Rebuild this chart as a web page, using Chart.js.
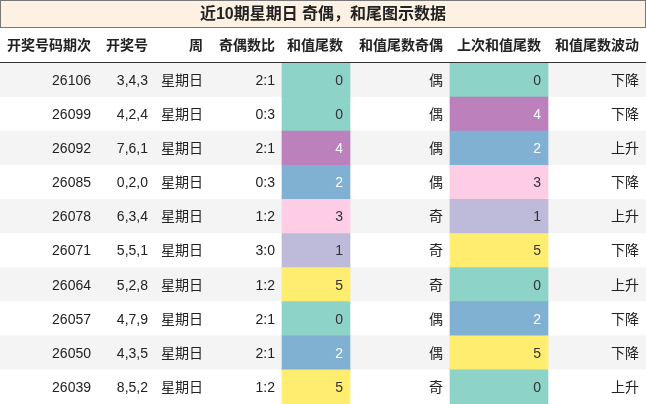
<!DOCTYPE html>
<html><head><meta charset="utf-8">
<script src="https://cdn.jsdelivr.net/npm/chart.js@4"></script>
<style>html,body{margin:0;padding:0;background:#fff}#w{width:646px;height:404px}</style>
</head><body><div id="w"><canvas id="c"></canvas></div>
<script>
const title = "近10期星期日 奇偶，和尾图示数据";
const headers = ["开奖号码期次","开奖号","周","奇偶数比","和值尾数","和值尾数奇偶","上次和值尾数","和值尾数波动"];
const issues = ["26106","26099","26092","26085","26078","26071","26064","26057","26050","26039"];
const numbers = ["3,4,3","4,2,4","7,6,1","0,2,0","6,3,4","5,5,1","5,2,8","4,7,9","4,3,5","8,5,2"];
const weekdays = ["星期日","星期日","星期日","星期日","星期日","星期日","星期日","星期日","星期日","星期日"];
const oddEven = ["2:1","0:3","2:1","0:3","1:2","3:0","1:2","2:1","2:1","1:2"];
const sumTail = [0,0,4,2,3,1,5,0,2,5];
const tailParity = ["偶","偶","偶","偶","奇","奇","奇","偶","偶","奇"];
const prevTail = [0,4,2,3,1,5,0,2,5,0];
const trend = ["下降","下降","上升","下降","上升","下降","上升","下降","下降","上升"];

const colEdges = [0,98,155,210,282,350,450,548,646];
const tailColors = {0:"#8dd3c7",1:"#bebada",2:"#80b1d3",3:"#fccde5",4:"#bc80bd",5:"#ffed6f"};
const tailText = {0:"#333",1:"#333",2:"#fff",3:"#333",4:"#fff",5:"#333"};
const rows = issues.map((_, i) => i);
const FONT = "'Liberation Sans','Noto Sans CJK SC',sans-serif";

const tablePlugin = {
  id: 'table',
  afterDatasetsDraw(chart) {
    const {ctx} = chart, x = chart.scales.x, y = chart.scales.y;
    ctx.save();
    // title
    ctx.fillStyle = "#fdf1e3"; ctx.fillRect(0,0,646,28);
    ctx.strokeStyle = "#777"; ctx.lineWidth = 1; ctx.strokeRect(0.5,0.5,645,27);
    ctx.fillStyle = "#222"; ctx.font = "bold 16px " + FONT; ctx.textAlign = "center"; ctx.textBaseline = "middle";
    ctx.fillText(title, 323, 15);
    // header
    const hy = 46;
    ctx.font = "bold 14px " + FONT; ctx.textAlign = "right";
    headers.forEach((h, j) => ctx.fillText(h, x.getPixelForValue(colEdges[j+1]) - 7, hy));
    ctx.strokeStyle = "#333"; ctx.beginPath(); ctx.moveTo(0, 62.5); ctx.lineTo(646, 62.5); ctx.stroke();
    // cells
    ctx.font = "14px " + FONT;
    rows.forEach(i => {
      const py = y.getPixelForValue(i);
      const vals = [issues[i], numbers[i], weekdays[i], oddEven[i], String(sumTail[i]), tailParity[i], String(prevTail[i]), trend[i]];
      vals.forEach((v, j) => {
        ctx.fillStyle = j === 4 ? tailText[sumTail[i]] : j === 6 ? tailText[prevTail[i]] : "#222";
        ctx.fillText(v, x.getPixelForValue(colEdges[j+1]) - 7, py + 1);
      });
    });
    ctx.restore();
  }
};

new Chart(document.getElementById('c'), {
  type: 'bar',
  data: {
    labels: rows,
    datasets: [
      {data: rows.map(() => [colEdges[4], colEdges[5]]), backgroundColor: sumTail.map(v => tailColors[v]), order: 1},
      {data: rows.map(() => [colEdges[6], colEdges[7]]), backgroundColor: prevTail.map(v => tailColors[v]), order: 1},
      {data: rows.map(() => [colEdges[0], colEdges[8]]), backgroundColor: rows.map(i => i % 2 === 0 ? "#f4f4f4" : "#ffffff"), order: 2}
    ]
  },
  options: {
    indexAxis: 'y', animation: false, responsive: true, maintainAspectRatio: false,
    layout: {padding: {top: 63, left: 0, right: 0, bottom: 0}},
    plugins: {legend: {display: false}, tooltip: {enabled: false}},
    datasets: {bar: {grouped: false, barPercentage: 1, categoryPercentage: 1, borderWidth: 0}},
    scales: {
      x: {type: 'linear', min: 0, max: 646, display: false},
      y: {type: 'category', display: false, offset: true}
    }
  },
  plugins: [tablePlugin]
});
</script></body></html>
